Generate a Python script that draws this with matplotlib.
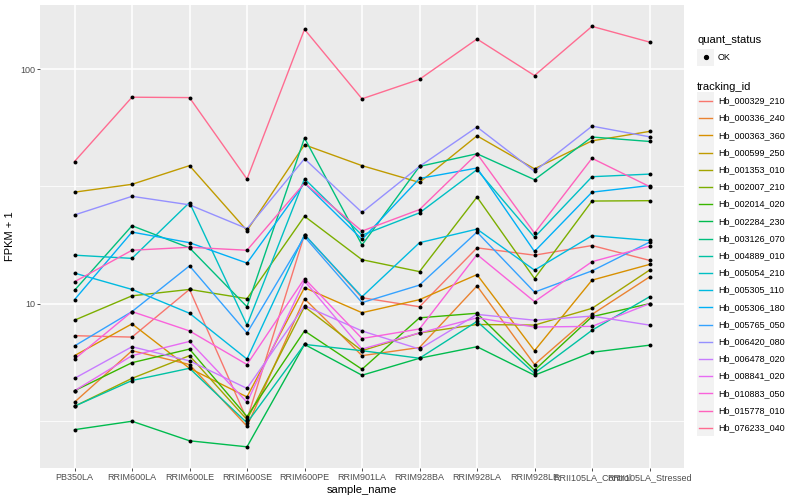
##################### FPKM profiles of Hb transcripts ########################
import numpy as np
import matplotlib.pyplot as plt
from matplotlib.patches import Rectangle
from matplotlib.ticker import FixedLocator, NullFormatter

plt.rcParams['font.family'] = ['Liberation Sans', 'DejaVu Sans']

############################### Data (FPKM + 1) ###############################
samples = ['PB350LA', 'RRIM600LA', 'RRIM600LE', 'RRIM600SE', 'RRIM600PE',
           'RRIM901LA', 'RRIM928BA', 'RRIM928LA', 'RRIM928LE',
           'RRII105LA_Control', 'RRII105LA_Stressed']

hb_000329_210 = [7.3, 7.2, 11.5, 3.2, 19.7, 10.6, 9.7, 17.3, 16.1, 17.7, 15.3]
hb_000336_240 = [3.8, 6.3, 5.5, 3.0, 10.5, 6.0, 6.5, 11.9, 5.5, 9.0, 13.0]
hb_000363_360 = [6.0, 8.2, 5.3, 4.0, 11.7, 9.15, 10.4, 13.3, 6.3, 12.6, 14.7]
hb_000599_250 = [29.9, 32.3, 38.8, 20.5, 47.6, 38.8, 32.9, 52.0, 37.6, 49.5, 54.3]
hb_001353_010 = [3.65, 4.8, 6.0, 3.2, 9.7, 6.3, 7.5, 8.15, 8.1, 9.55, 13.9]
hb_002007_210 = [8.5, 10.8, 11.5, 10.5, 23.6, 15.4, 13.7, 28.5, 12.8, 27.4, 27.5]
hb_002014_020 = [4.25, 5.6, 6.4, 3.3, 7.65, 5.25, 8.7, 9.1, 5.2, 8.8, 10.0]
hb_002284_230 = [2.9, 3.15, 2.6, 2.45, 6.7, 4.95, 5.85, 6.55, 4.95, 6.2, 6.65]
hb_003126_070 = [11.4, 21.5, 17.3, 9.7, 50.9, 17.8, 38.5, 43.6, 33.8, 51.4, 49.2]
hb_004889_010 = [3.65, 4.7, 5.3, 3.1, 6.7, 6.3, 5.85, 8.4, 5.05, 7.7, 10.7]
hb_005054_210 = [16.1, 15.6, 27.0, 8.1, 34.1, 19.6, 24.4, 37.3, 19.2, 34.8, 35.7]
hb_005305_110 = [13.5, 11.5, 9.1, 5.8, 19.7, 10.7, 18.2, 20.8, 13.9, 19.5, 18.6]
hb_005306_180 = [10.4, 20.2, 18.2, 14.9, 32.7, 18.8, 34.2, 37.9, 16.7, 29.9, 31.9]
hb_005765_050 = [6.6, 9.25, 14.5, 7.5, 19.3, 10.1, 12.0, 20.2, 11.2, 13.8, 18.3]
hb_006420_080 = [23.9, 28.7, 26.4, 20.9, 41.5, 24.5, 38.5, 56.7, 36.7, 57.2, 51.5]
hb_006478_020 = [4.8, 6.55, 5.7, 4.35, 9.8, 7.65, 6.4, 9.0, 8.5, 8.85, 8.1]
hb_008841_020 = [4.25, 6.0, 6.9, 3.8, 12.5, 6.4, 7.5, 8.7, 7.95, 8.0, 10.0]
hb_010883_050 = [5.8, 9.25, 7.65, 5.5, 12.8, 7.1, 7.8, 16.2, 10.2, 15.1, 17.6]
hb_015778_010 = [12.4, 16.9, 17.4, 16.9, 32.7, 20.4, 25.2, 43.6, 20.0, 41.7, 31.6]
hb_076233_040 = [40.4, 76.0, 75.7, 34.0, 148, 74.8, 90.6, 134.6, 94.0, 152.4, 130.6]

tracking_ids = ['Hb_000329_210', 'Hb_000336_240', 'Hb_000363_360', 'Hb_000599_250',
                'Hb_001353_010', 'Hb_002007_210', 'Hb_002014_020', 'Hb_002284_230',
                'Hb_003126_070', 'Hb_004889_010', 'Hb_005054_210', 'Hb_005305_110',
                'Hb_005306_180', 'Hb_005765_050', 'Hb_006420_080', 'Hb_006478_020',
                'Hb_008841_020', 'Hb_010883_050', 'Hb_015778_010', 'Hb_076233_040']
series = [hb_000329_210, hb_000336_240, hb_000363_360, hb_000599_250,
          hb_001353_010, hb_002007_210, hb_002014_020, hb_002284_230,
          hb_003126_070, hb_004889_010, hb_005054_210, hb_005305_110,
          hb_005306_180, hb_005765_050, hb_006420_080, hb_006478_020,
          hb_008841_020, hb_010883_050, hb_015778_010, hb_076233_040]

# ggplot default hue palette for 20 levels
colours = ['#F8766D', '#EA8331', '#D89000', '#C09B00', '#A3A500', '#7CAE00',
           '#39B600', '#00BB4E', '#00BF7D', '#00C1A3', '#00BFC4', '#00BAE0',
           '#00B0F6', '#35A2FF', '#9590FF', '#C77CFF', '#E76BF3', '#FA62DB',
           '#FF62BC', '#FF6C91']

################################## Plotting ###################################
fig = plt.figure(figsize=(8, 5), dpi=100)
ax = fig.add_axes([40 / 800, 32 / 500, 644 / 800, 463 / 500])
ax.set_facecolor('#EBEBEB')

x = np.arange(len(samples))
for vals, col in zip(series, colours):
    ax.plot(x, vals, color=col, lw=1.0, zorder=3)
for vals in series:
    ax.scatter(x, vals, color='black', s=8, zorder=4, linewidths=0)

ax.set_yscale('log')
ax.set_ylim(1.99, 188)
ax.set_xlim(-0.6, len(samples) - 0.4)
ax.yaxis.set_major_locator(FixedLocator([10, 100]))
ax.set_yticklabels(['10', '100'])
ax.yaxis.set_minor_locator(FixedLocator([10 ** 0.5, 10 ** 1.5]))
ax.yaxis.set_minor_formatter(NullFormatter())
ax.set_xticks(x)
ax.set_xticklabels(samples)

ax.grid(which='major', color='white', lw=1.1, zorder=0)
ax.grid(which='minor', axis='y', color='white', lw=0.55, zorder=0)
ax.set_axisbelow(True)
for s in ax.spines.values():
    s.set_visible(False)
ax.tick_params(which='major', length=2.0, width=0.6, color='#333333',
               labelsize=6.5, labelcolor='#4D4D4D', pad=1.5)
ax.tick_params(which='minor', length=0)
ax.set_xlabel('sample_name', fontsize=8, labelpad=2)
ax.set_ylabel('FPKM + 1', fontsize=8, labelpad=4)

################################### Legend ####################################
lg = fig.add_axes([0, 0, 1, 1])
lg.set_xlim(0, 800)
lg.set_ylim(500, 0)
lg.axis('off')
lg.patch.set_alpha(0)

lg.text(697, 40, 'quant_status', fontsize=8, va='center', ha='left')
lg.add_patch(Rectangle((697, 48.5), 17, 17, facecolor='#F2F2F2', edgecolor='none'))
lg.plot([705.5], [57], 'o', color='black', ms=2.8)
lg.text(718, 57, 'OK', fontsize=6.5, va='center', ha='left')

lg.text(697, 87, 'tracking_id', fontsize=8, va='center', ha='left')
for i, (name, col) in enumerate(zip(tracking_ids, colours)):
    yc = 101 + i * 17.2
    lg.add_patch(Rectangle((697, yc - 8.6), 17, 17.2, facecolor='#F2F2F2', edgecolor='none'))
    lg.plot([699, 712], [yc, yc], color=col, lw=1.0)
    lg.text(718, yc, name, fontsize=6.5, va='center', ha='left')

fig.savefig('out.png', dpi=100)
